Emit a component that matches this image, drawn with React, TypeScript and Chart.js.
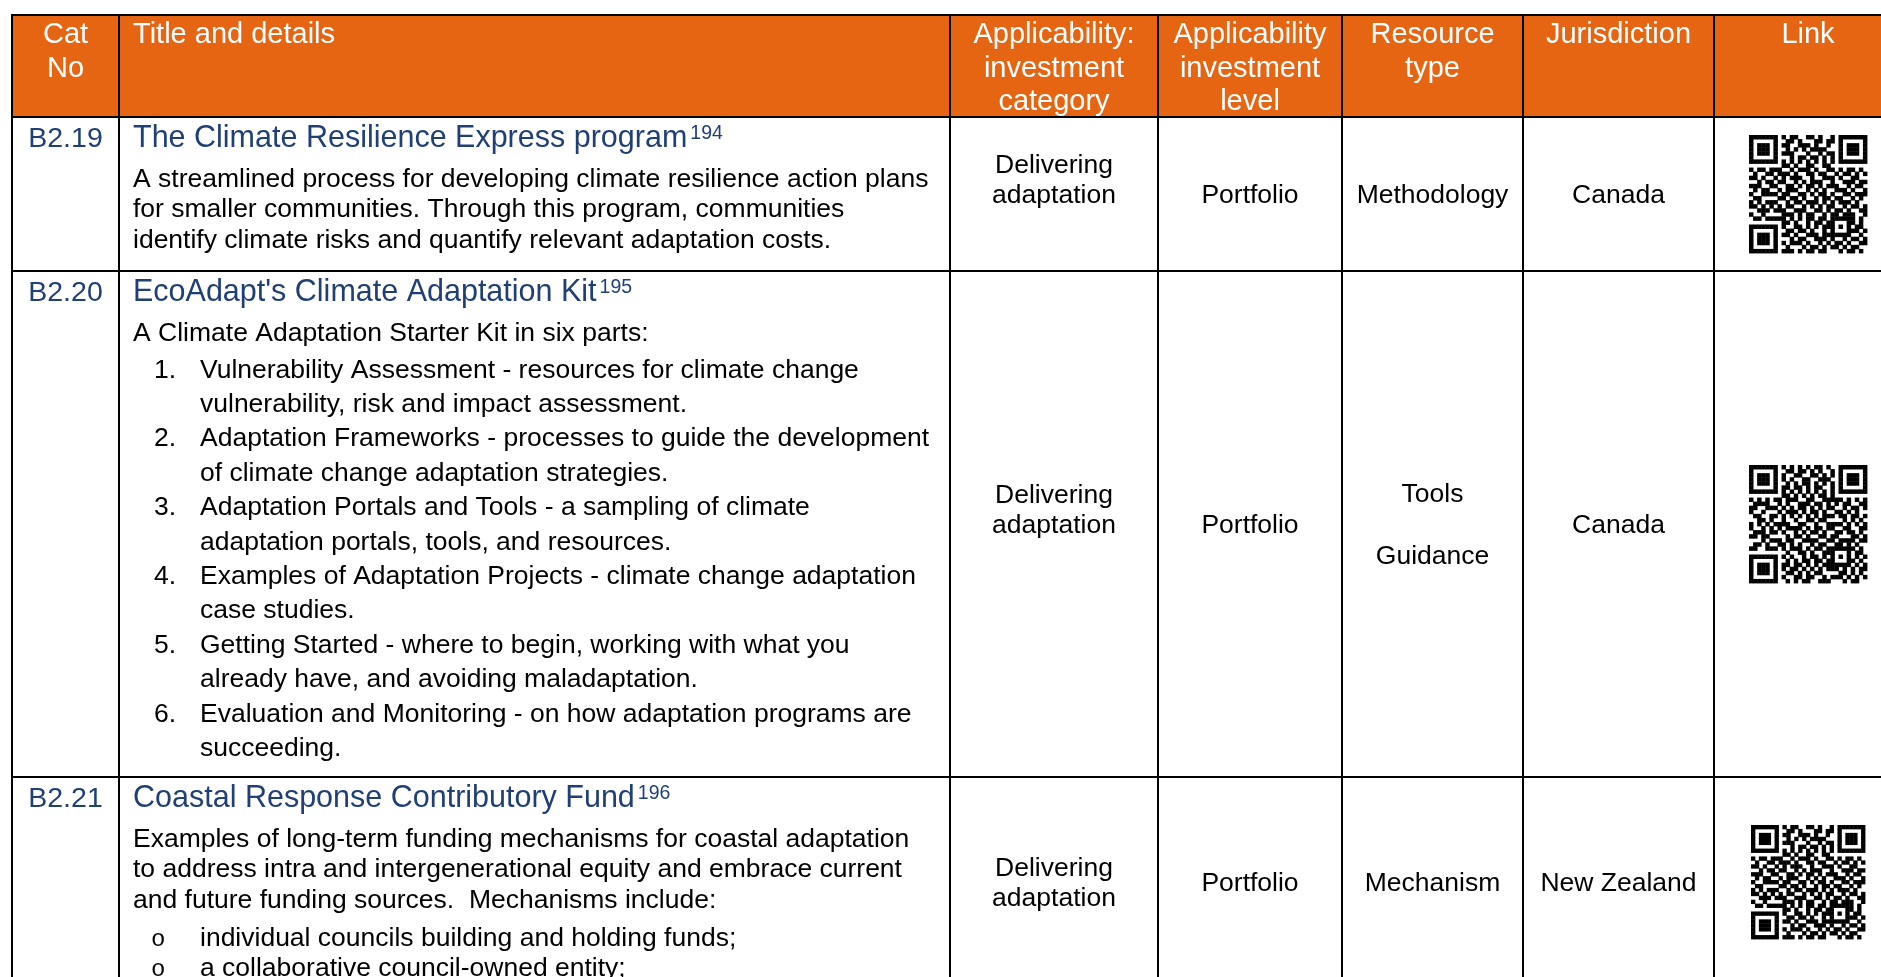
import React, { useEffect, useRef } from "react";
import { Chart, registerables } from "chart.js";

Chart.register(...registerables);

// ---------------- DATA ----------------
const HEADERS: string[][] = [
  ["Cat", "No"],
  ["Title and details"],
  ["Applicability:", "investment", "category"],
  ["Applicability", "investment", "level"],
  ["Resource", "type"],
  ["Jurisdiction"],
  ["Link"],
];

const CAT_NOS: string[] = ["B2.19", "B2.20", "B2.21"];

const TITLES: string[] = [
  "The Climate Resilience Express program",
  "EcoAdapt's Climate Adaptation Kit",
  "Coastal Response Contributory Fund",
];

const REFS: string[] = ["194", "195", "196"];

const INTRO_LINES: string[][] = [
  [
    "A streamlined process for developing climate resilience action plans",
    "for smaller communities. Through this program, communities",
    "identify climate risks and quantify relevant adaptation costs.",
  ],
  ["A Climate Adaptation Starter Kit in six parts:"],
  [
    "Examples of long-term funding mechanisms for coastal adaptation",
    "to address intra and intergenerational equity and embrace current",
    "and future funding sources.  Mechanisms include:",
  ],
];

const NUMBERED_ITEMS: string[][][] = [
  [],
  [
    ["Vulnerability Assessment - resources for climate change", "vulnerability, risk and impact assessment."],
    ["Adaptation Frameworks - processes to guide the development", "of climate change adaptation strategies."],
    ["Adaptation Portals and Tools - a sampling of climate", "adaptation portals, tools, and resources."],
    ["Examples of Adaptation Projects - climate change adaptation", "case studies."],
    ["Getting Started - where to begin, working with what you", "already have, and avoiding maladaptation."],
    ["Evaluation and Monitoring - on how adaptation programs are", "succeeding."],
  ],
  [],
];

const BULLET_ITEMS: string[][][] = [
  [],
  [],
  [
    ["individual councils building and holding funds;"],
    ["a collaborative council-owned entity;"],
  ],
];

const CATEGORIES: string[][] = [
  ["Delivering", "adaptation", ""],
  ["Delivering", "adaptation", ""],
  ["Delivering", "adaptation"],
];
const LEVELS: string[][] = [["Portfolio"], ["Portfolio"], ["Portfolio"]];
const RESOURCE_TYPES: string[][] = [["Methodology"], ["Tools", "", "Guidance"], ["Mechanism"]];
const JURISDICTIONS: string[][] = [["Canada"], ["Canada"], ["New Zealand"]];

const QR_MATRIX: string[] = [
  "11111110101100110100101111111",
  "10000010011010001101101000001",
  "10111010110011101001001011101",
  "10111010010101011110001011101",
  "10111010111000100101101011101",
  "10000010001011011010101000001",
  "11111110101010101010101111111",
  "00000000110100110011000000000",
  "10110111001011101001101011010",
  "01001101110100110110010110101",
  "11010010101110010011101001100",
  "00101101100101011100100111011",
  "11100110011010110101110010110",
  "01011001011100101010011101001",
  "10011110110011010110100110111",
  "01100001101101001011011001010",
  "10101110010110111010101110100",
  "11010101011001010101100101101",
  "00111011100111001101011010011",
  "10010000111010110010110111001",
  "01101111101010110110111111010",
  "00000000110100101101100011010",
  "11111110100110101011101010110",
  "10000010011011010010100011101",
  "10111010110100111011111110010",
  "10111010001011001110100101101",
  "10111010101110100101011010011",
  "10000010010001011010110101100",
  "11111110111010110110001011010",
];

// ---------------- LAYOUT / STYLE ----------------
const W = 1881;
const H = 977;
const COL_EDGES = [12, 119, 950, 1158, 1342, 1523, 1714, 1902];
const ROW_EDGES = [15, 117, 271, 777, 987];
const FONT = '"Liberation Sans", Arial, sans-serif';
const MONO = '"Liberation Mono", "Courier New", monospace';
const ORANGE = "#E66512";
const BLUE = "#1F3F75";
const HEADER_SIZE = 29;
const HEADER_LH = 33.5;
const HEADER_FIRST = 28;
const CATNO_SIZE = 28.5;
const TITLE_SIZE = 30.5;
const REF_SIZE = 19.5;
const BODY_SIZE = 26.5;
const TITLE_OFFSET = 29.5;
const TITLE_TO_BODY = 40.5;
const PARA_LH = 30.3;
const NUM_GAP = 36.5;
const NUM_LH = 34.4;
const BULLET_GAP = 38;
const BULLET_LH = 30;
const TEXT_X = 133;
const NUM_X = 154;
const ITEM_X = 200;
const BULLET_X = 151;
const CELL_LH = 30;
const CELL_GAP_LH = 31;
const QR_SIZES = [118, 118, 114];

function transpose(m: string[]): string[] {
  return m.map((_, r) => m.map((row) => row[r]).join(""));
}
const QR_LIST = [QR_MATRIX, transpose(QR_MATRIX), QR_MATRIX];

const tablePlugin = {
  id: "tableDraw",
  afterDraw(chart: any) {
    const ctx: CanvasRenderingContext2D = chart.ctx;
    const xs = chart.scales.x;
    const ys = chart.scales.y;
    const X = (v: number) => xs.getPixelForValue(v);
    const Y = (v: number) => ys.getPixelForValue(v);
    ctx.save();
    ctx.textBaseline = "alphabetic";

    // header background
    ctx.fillStyle = ORANGE;
    ctx.fillRect(X(COL_EDGES[0]), Y(ROW_EDGES[0]), X(COL_EDGES[7]) - X(COL_EDGES[0]), Y(ROW_EDGES[1]) - Y(ROW_EDGES[0]));

    // header text
    ctx.fillStyle = "#ffffff";
    ctx.font = `${HEADER_SIZE}px ${FONT}`;
    HEADERS.forEach((lines, c) => {
      const cx = (COL_EDGES[c] + COL_EDGES[c + 1]) / 2;
      lines.forEach((ln, i) => {
        const by = ROW_EDGES[0] + HEADER_FIRST + i * HEADER_LH;
        if (c === 1) {
          ctx.textAlign = "left";
          ctx.fillText(ln, X(TEXT_X), Y(by));
        } else {
          ctx.textAlign = "center";
          ctx.fillText(ln, X(cx), Y(by));
        }
      });
    });

    // body rows
    const drawCenteredBlock = (lines: string[], col: number, r: number) => {
      const cx = (COL_EDGES[col] + COL_EDGES[col + 1]) / 2;
      const cy = (ROW_EDGES[r + 1] + ROW_EDGES[r + 2]) / 2;
      const lh = lines.includes("") && lines[lines.length - 1] !== "" ? CELL_GAP_LH : CELL_LH;
      const first = cy + 9 - ((lines.length - 1) * lh) / 2;
      ctx.textAlign = "center";
      lines.forEach((ln, i) => {
        if (ln) ctx.fillText(ln, X(cx), Y(first + i * lh));
      });
    };

    CAT_NOS.forEach((cat, r) => {
      const top = ROW_EDGES[r + 1];
      const tb = top + TITLE_OFFSET;
      // cat no
      ctx.fillStyle = BLUE;
      ctx.textAlign = "center";
      ctx.font = `${CATNO_SIZE}px ${FONT}`;
      ctx.fillText(cat, X((COL_EDGES[0] + COL_EDGES[1]) / 2), Y(tb));
      // title
      ctx.textAlign = "left";
      ctx.font = `${TITLE_SIZE}px ${FONT}`;
      ctx.fillText(TITLES[r], X(TEXT_X), Y(tb));
      const tw = ctx.measureText(TITLES[r]).width;
      ctx.font = `${REF_SIZE}px ${FONT}`;
      ctx.fillText(REFS[r], X(TEXT_X) + tw + 3, Y(tb - 8));

      // details
      ctx.fillStyle = "#000000";
      ctx.font = `${BODY_SIZE}px ${FONT}`;
      let y = tb + TITLE_TO_BODY;
      INTRO_LINES[r].forEach((ln, i) => {
        if (i > 0) y += PARA_LH;
        ctx.fillText(ln, X(TEXT_X), Y(y));
      });
      NUMBERED_ITEMS[r].forEach((item, k) => {
        y += k === 0 ? NUM_GAP : NUM_LH;
        ctx.fillText(`${k + 1}.`, X(NUM_X), Y(y));
        item.forEach((ln, i) => {
          if (i > 0) y += NUM_LH;
          ctx.fillText(ln, X(ITEM_X), Y(y));
        });
      });
      BULLET_ITEMS[r].forEach((item, k) => {
        y += k === 0 ? BULLET_GAP : BULLET_LH;
        ctx.font = `24px ${MONO}`;
        ctx.fillText("o", X(BULLET_X), Y(y));
        ctx.font = `${BODY_SIZE}px ${FONT}`;
        item.forEach((ln, i) => {
          if (i > 0) y += BULLET_LH;
          ctx.fillText(ln, X(ITEM_X), Y(y));
        });
      });

      // right-hand cells
      drawCenteredBlock(CATEGORIES[r], 2, r);
      drawCenteredBlock(LEVELS[r], 3, r);
      drawCenteredBlock(RESOURCE_TYPES[r], 4, r);
      drawCenteredBlock(JURISDICTIONS[r], 5, r);

      // QR
      const m = QR_LIST[r];
      const n = m.length;
      const size = QR_SIZES[r];
      const qcx = (COL_EDGES[6] + COL_EDGES[7]) / 2;
      const qcy = (ROW_EDGES[r + 1] + ROW_EDGES[r + 2]) / 2;
      const x0 = X(qcx - size / 2);
      const y0 = Y(qcy - size / 2);
      const mod = (X(qcx + size / 2) - x0) / n;
      ctx.fillStyle = "#000000";
      for (let i = 0; i < n; i++) {
        for (let j = 0; j < n; j++) {
          if (m[i][j] === "1") ctx.fillRect(x0 + j * mod, y0 + i * mod, mod + 0.4, mod + 0.4);
        }
      }
    });

    // grid lines
    ctx.strokeStyle = "#000000";
    ctx.lineWidth = 2;
    ctx.beginPath();
    COL_EDGES.forEach((cx) => {
      ctx.moveTo(X(cx), Y(ROW_EDGES[0]));
      ctx.lineTo(X(cx), Y(ROW_EDGES[ROW_EDGES.length - 1]));
    });
    ROW_EDGES.forEach((ry) => {
      ctx.moveTo(X(COL_EDGES[0]) - 1, Y(ry));
      ctx.lineTo(X(COL_EDGES[COL_EDGES.length - 1]), Y(ry));
    });
    ctx.stroke();
    ctx.restore();
  },
};

export default function App() {
  const ref = useRef<HTMLCanvasElement>(null);
  useEffect(() => {
    const canvas = ref.current;
    if (!canvas) return;
    const chart = new Chart(canvas, {
      type: "scatter",
      data: { datasets: [{ data: [] }] },
      options: {
        responsive: false,
        maintainAspectRatio: false,
        animation: false,
        devicePixelRatio: 1,
        events: [],
        layout: { padding: 0 },
        plugins: { legend: { display: false }, tooltip: { enabled: false } },
        scales: {
          x: { type: "linear", min: 0, max: W, display: false },
          y: { type: "linear", min: 0, max: H, reverse: true, display: false },
        },
      },
      plugins: [tablePlugin],
    } as any);
    return () => chart.destroy();
  }, []);
  return (
    <div style={{ position: "fixed", left: 0, top: 0, width: W, height: H, background: "#ffffff", overflow: "hidden" }}>
      <canvas ref={ref} width={W} height={H} style={{ display: "block", width: W, height: H }} />
    </div>
  );
}
